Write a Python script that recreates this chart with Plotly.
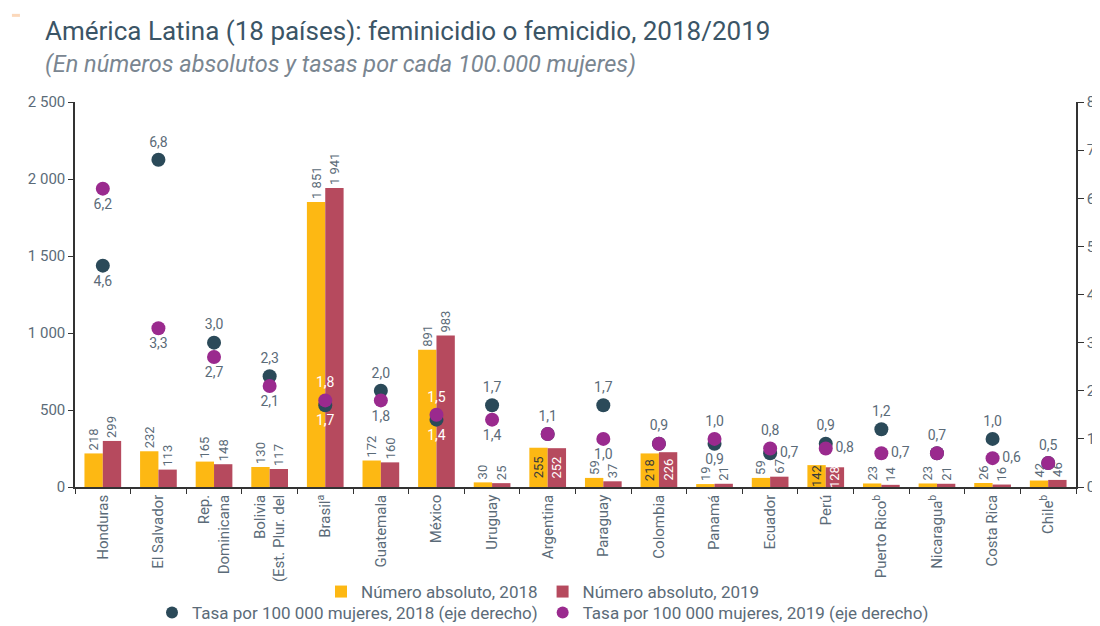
import plotly.graph_objects as go
from plotly.subplots import make_subplots

# data
countries = ["Honduras", "El Salvador", "Rep.<br>Dominicana", "Bolivia<br>(Est. Plur. del", "Brasil<sup>a</sup>",
             "Guatemala", "México", "Uruguay", "Argentina", "Paraguay", "Colombia", "Panamá", "Ecuador",
             "Perú", "Puerto Rico<sup>b</sup>", "Nicaragua<sup>b</sup>", "Costa Rica", "Chile<sup>b</sup>"]
abs_2018 = [218, 232, 165, 130, 1851, 172, 891, 30, 255, 59, 218, 19, 59, 142, 23, 23, 26, 42]
abs_2019 = [299, 113, 148, 117, 1941, 160, 983, 25, 252, 37, 226, 21, 67, 128, 14, 21, 16, 46]
rate_2018 = [4.6, 6.8, 3.0, 2.3, 1.7, 2.0, 1.4, 1.7, 1.1, 1.7, 0.9, 0.9, 0.7, 0.9, 1.2, 0.7, 1.0, 0.5]
rate_2019 = [6.2, 3.3, 2.7, 2.1, 1.8, 1.8, 1.5, 1.4, 1.1, 1.0, 0.9, 1.0, 0.8, 0.8, 0.7, 0.7, 0.6, 0.5]

# label placement (style)
inside_bar = {"Argentina", "Colombia", "Perú"}
pos_2018 = ["bottom center", "top center", "top center", "top center", "bottom center", "top center",
            "bottom center", "top center", None, "top center", None, "bottom center", "middle right",
            "top center", "top center", "top center", "top center", None]
pos_2019 = ["bottom center", "bottom center", "bottom center", "bottom center", "top center", "bottom center",
            "top center", "bottom center", "top center", "bottom center", "top center", "top center",
            "top center", "middle right", "middle right", None, "middle right", "top center"]
white_labels = {"Brasil<sup>a</sup>", "México"}

YELLOW = "#FDB813"
RED = "#B64A5E"
TEAL = "#2B4A59"
PURPLE = "#9A2A8E"
GREY = "#5B6B78"
AXIS = "#333333"
FONT = "Roboto"

# the page body adds an 8px offset, so the figure is 8px smaller than the window
W, H = 1092, 618


def fmt(v):
    return f"{v:.1f}".replace(".", ",")


def bar_trace(vals, name, color, inside_color):
    pos = ["inside" if c in inside_bar else "outside" for c in countries]
    return go.Bar(
        x=countries, y=vals, name=name, marker=dict(color=color, line=dict(width=0)),
        texttemplate="%{y:,}", textposition=pos, textangle=-90, insidetextanchor="middle",
        constraintext="none", cliponaxis=False,
        outsidetextfont=dict(color=GREY, size=13, family=FONT),
        insidetextfont=dict(color=inside_color, size=13, family=FONT),
        legend="legend", hoverinfo="skip",
    )


def rate_trace(vals, positions, name, color):
    text = [fmt(v) if p else "" for v, p in zip(vals, positions)]
    tpos = [p if p else "top center" for p in positions]
    tcol = ["white" if c in white_labels else GREY for c in countries]
    return go.Scatter(
        x=countries, y=vals, name=name, mode="markers+text",
        marker=dict(color=color, size=14),
        text=text, textposition=tpos, textfont=dict(color=tcol, size=14, family=FONT),
        cliponaxis=False, legend="legend2", hoverinfo="skip",
    )


fig = make_subplots(specs=[[{"secondary_y": True}]])
fig.add_trace(bar_trace(abs_2018, "Número absoluto, 2018", YELLOW, "#3A3A3A"), secondary_y=False)
fig.add_trace(bar_trace(abs_2019, "Número absoluto, 2019", RED, "white"), secondary_y=False)
fig.add_trace(rate_trace(rate_2018, pos_2018, "Tasa por 100 000 mujeres, 2018 (eje derecho)", TEAL), secondary_y=True)
fig.add_trace(rate_trace(rate_2019, pos_2019, "Tasa por 100 000 mujeres, 2019 (eje derecho)", PURPLE), secondary_y=True)

fig.update_layout(
    width=W, height=H,
    template="simple_white",
    separators=", ",
    font=dict(family=FONT, color=GREY, size=15),
    margin=dict(l=67, r=24, t=94, b=139),
    barmode="group", bargap=0.34, bargroupgap=0,
    legend=dict(orientation="h", x=535 / W, xanchor="center", xref="container",
                y=1 - 584 / H, yanchor="middle", yref="container",
                font=dict(size=17, color=GREY), bgcolor="rgba(0,0,0,0)"),
    legend2=dict(orientation="h", x=535 / W, xanchor="center", xref="container",
                 y=1 - 605 / H, yanchor="middle", yref="container", itemsizing="constant",
                 font=dict(size=17, color=GREY), bgcolor="rgba(0,0,0,0)"),
    annotations=[
        dict(text="América Latina (18 países): feminicidio o femicidio, 2018/2019",
             xref="paper", yref="paper", x=-0.032, y=1.184, xanchor="left", yanchor="middle",
             showarrow=False, font=dict(size=26, color="#3B5566", family=FONT)),
        dict(text="<i>(En números absolutos y tasas por cada 100.000 mujeres)</i>",
             xref="paper", yref="paper", x=-0.032, y=1.099, xanchor="left", yanchor="middle",
             showarrow=False, font=dict(size=23.5, color="#7A8691", family=FONT)),
    ],
    shapes=[dict(type="line", xref="paper", yref="paper", x0=-0.063, x1=-0.055, y0=1.225, y1=1.225,
                 line=dict(color="#F58220", width=3))],
)

fig.update_xaxes(
    domain=[0, 1], range=[-0.5, len(countries) - 0.5],
    tickangle=-90, tickson="boundaries", ticks="outside", ticklen=5, tickcolor=AXIS,
    showline=True, linecolor=AXIS, linewidth=1.5, automargin=False,
    tickfont=dict(size=15, color=GREY),
)
fig.update_yaxes(
    range=[0, 2500], dtick=500, tickformat=",", ticks="outside", ticklen=5, tickcolor=AXIS,
    showline=True, linecolor=AXIS, linewidth=1.5, showgrid=False, zeroline=False, automargin=False,
    tickfont=dict(size=15, color=GREY), secondary_y=False,
)
fig.update_yaxes(
    range=[0, 8], dtick=1, ticks="outside", ticklen=6, tickcolor=AXIS,
    showline=True, linecolor=AXIS, linewidth=1.5, showgrid=False, zeroline=False, automargin=False,
    tickfont=dict(size=15, color=GREY), secondary_y=True,
)

fig.write_html("out.html")
